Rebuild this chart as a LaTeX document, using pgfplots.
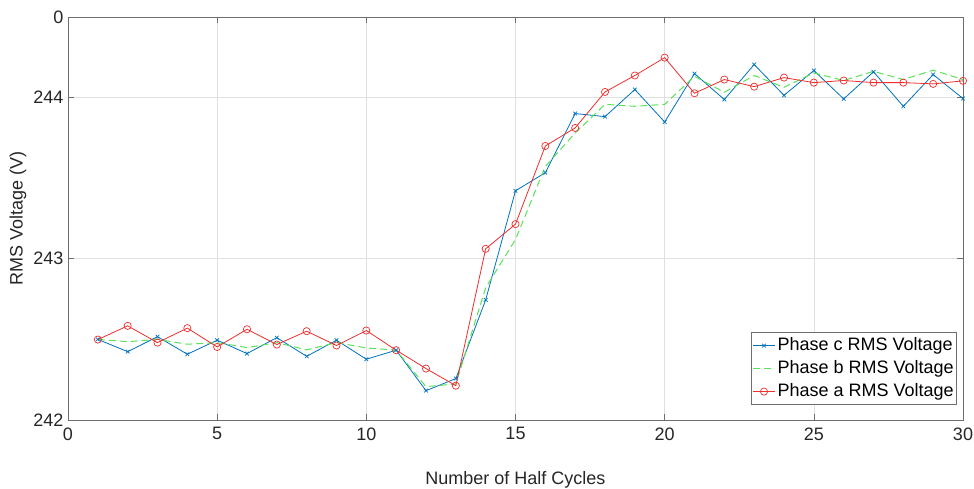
\documentclass[border=0pt]{standalone}
\usepackage{pgfplots}
\pgfplotsset{compat=1.18}
\usepackage{fontspec}
\setmainfont{Liberation Sans}

\definecolor{phc}{RGB}{0,114,189}
\definecolor{phb}{RGB}{90,225,90}
\definecolor{pha}{RGB}{238,45,45}
\definecolor{axgray}{RGB}{110,110,110}
\definecolor{txt}{RGB}{38,38,38}

\begin{document}
\begin{tikzpicture}
\begin{axis}[
  scale only axis,
  width=895bp, height=403bp,
  xmin=0, xmax=30, ymin=242, ymax=244.5,
  xtick={0,5,...,30},
  ytick={242,243,244,244.5},
  yticklabels={242,243,244,0},
  /pgf/number format/assume math mode=true,
  tick align=inside,
  major tick length=6bp,
  tick style={axgray, line width=0.6bp},
  axis line style={axgray, line width=0.8bp},
  grid=major,
  grid style={black!12, line width=0.6bp},
  tick label style={font=\fontsize{18bp}{21bp}\selectfont, text=txt},
  xticklabel style={yshift=-4bp},
  yticklabel style={xshift=-1bp},
  label style={font=\fontsize{18bp}{21bp}\selectfont, text=txt},
  xlabel={Number of Half Cycles},
  ylabel={RMS Voltage (V)},
  xlabel style={at={(axis description cs:0.5,0)}, anchor=center, yshift=-60bp},
  ylabel style={at={(axis description cs:0,0.5)}, anchor=center, yshift=50bp},
  legend style={
    at={(rel axis cs:0.9933,0.0372)}, anchor=south east,
    font=\fontsize{18bp}{21bp}\selectfont, text=black,
    draw=axgray, line width=0.8bp, fill=white,
    inner xsep=1bp, inner ysep=1.5bp,
    row sep=0bp,
    nodes={inner xsep=2bp, inner ysep=3bp, text height=13bp, text depth=4bp},
  },
  legend cell align=left,
  legend image code/.code={
    \draw[mark repeat=2, mark phase=2]
      plot coordinates {(0bp,0bp) (11bp,0bp) (22bp,0bp)};
  },
]
% Phase c
\addplot[phc, line width=0.8bp, mark=x, mark size=2.6bp,
         mark options={solid, line width=0.7bp}] coordinates {
 (1,242.500) (2,242.424) (3,242.517) (4,242.408) (5,242.495)
 (6,242.412) (7,242.511) (8,242.395) (9,242.495) (10,242.377)
 (11,242.433) (12,242.182) (13,242.257) (14,242.745) (15,243.422)
 (16,243.534) (17,243.901) (18,243.882) (19,244.050) (20,243.849)
 (21,244.149) (22,243.988) (23,244.205) (24,244.014) (25,244.168)
 (26,243.992) (27,244.160) (28,243.946) (29,244.143) (30,243.994)
};
\addlegendentry{Phase c RMS Voltage}
% Phase b
\addplot[phb, line width=1bp, dashed, dash pattern=on 7bp off 4bp] coordinates {
 (1,242.500) (2,242.486) (3,242.500) (4,242.470) (5,242.480)
 (6,242.449) (7,242.480) (8,242.435) (9,242.480) (10,242.447)
 (11,242.433) (12,242.207) (13,242.224) (14,242.820) (15,243.120)
 (16,243.573) (17,243.780) (18,243.958) (19,243.946) (20,243.958)
 (21,244.132) (22,244.033) (23,244.137) (24,244.064) (25,244.153)
 (26,244.106) (27,244.163) (28,244.112) (29,244.170) (30,244.112)
};
\addlegendentry{Phase b RMS Voltage}
% Phase a
\addplot[pha, line width=0.8bp, mark=o, mark size=3.6bp,
         mark options={solid, line width=0.7bp}] coordinates {
 (1,242.499) (2,242.584) (3,242.480) (4,242.570) (5,242.453)
 (6,242.563) (7,242.468) (8,242.551) (9,242.462) (10,242.555)
 (11,242.433) (12,242.319) (13,242.213) (14,243.062) (15,243.215)
 (16,243.700) (17,243.812) (18,244.035) (19,244.137) (20,244.248)
 (21,244.027) (22,244.112) (23,244.068) (24,244.124) (25,244.093)
 (26,244.106) (27,244.093) (28,244.093) (29,244.085) (30,244.104)
};
\addlegendentry{Phase a RMS Voltage}
\end{axis}
\pgfresetboundingbox
\path[use as bounding box] (-68bp,-69bp) rectangle (906bp,420bp);
\end{tikzpicture}
\end{document}
